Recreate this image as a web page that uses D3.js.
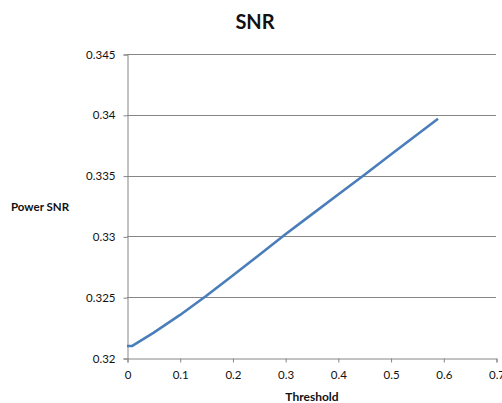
<!DOCTYPE html>
<html>
<head>
<meta charset="utf-8">
<script src="https://cdn.jsdelivr.net/npm/d3@7"></script>
<style>
  html, body { margin: 0; padding: 0; background: #fff; }
  svg { display: block; }
  text { font-family: Lato, "Open Sans", sans-serif; fill: #111; }
</style>
</head>
<body>
<svg id="chart" width="502" height="403"></svg>
<script>
// Threshold sweep and resulting power SNR
const thresholds = [0, 0.01, 0.05, 0.1, 0.15, 0.2, 0.25, 0.3, 0.35, 0.4, 0.45, 0.5, 0.55, 0.59];
const powerSNR   = [0.32099, 0.32099, 0.32207, 0.32352, 0.3251, 0.32677, 0.32845, 0.33015, 0.33179, 0.33342, 0.33505, 0.33671, 0.33836, 0.33967];
const xTicks = [0, 0.1, 0.2, 0.3, 0.4, 0.5, 0.6, 0.7];
const yTicks = [0.32, 0.325, 0.33, 0.335, 0.34, 0.345];
const titleText = "SNR";
const xTitle = "Threshold";
const yTitle = "Power SNR";

(function draw() {
  const svg = d3.select("#chart");
  const plotLeft = 127, plotRight = 496, plotTop = 54, plotBottom = 358;

  const x = d3.scaleLinear().domain([0, 0.7]).range([plotLeft, plotRight]);
  const y = d3.scaleLinear().domain([0.32, 0.345]).range([plotBottom, plotTop]);
  const axisColor = "#868686";

  // horizontal gridlines
  svg.append("g").selectAll("line").data(yTicks.slice(1)).join("line")
    .attr("x1", plotLeft).attr("x2", plotRight)
    .attr("y1", d => Math.round(y(d)) + 0.5).attr("y2", d => Math.round(y(d)) + 0.5)
    .attr("stroke", axisColor).attr("stroke-width", 1);

  // y axis
  const yAxis = d3.axisLeft(y).tickValues(yTicks).tickSize(4).tickPadding(8)
    .tickFormat(d => String(+d.toFixed(3)));
  const gy = svg.append("g").attr("transform", `translate(${plotLeft + 0.5},0.5)`).call(yAxis);
  gy.select(".domain").attr("stroke", axisColor);
  gy.selectAll(".tick line").attr("stroke", axisColor);
  gy.selectAll(".tick text").style("font-size", "11.5px").attr("fill", "#111");

  // x axis
  const xAxis = d3.axisBottom(x).tickValues(xTicks).tickSize(4).tickPadding(8)
    .tickFormat(d => String(+d.toFixed(1)));
  const gx = svg.append("g").attr("transform", `translate(0.5,${plotBottom + 0.5})`).call(xAxis);
  gx.select(".domain").attr("stroke", axisColor);
  gx.selectAll(".tick line").attr("stroke", axisColor);
  gx.selectAll(".tick text").style("font-size", "11.5px").attr("fill", "#111");

  // data line
  const line = d3.line().x((d, i) => x(thresholds[i])).y(d => y(d));
  svg.append("path").datum(powerSNR)
    .attr("d", line)
    .attr("fill", "none")
    .attr("stroke", "#4a7ebb")
    .attr("stroke-width", 2.6)
    .attr("stroke-linejoin", "round");

  // titles
  svg.append("text").attr("x", 255).attr("y", 29).attr("text-anchor", "middle")
    .style("font-size", "20px").style("font-weight", "bold").text(titleText);
  svg.append("text").attr("x", 312).attr("y", 401).attr("text-anchor", "middle")
    .style("font-size", "12px").style("font-weight", "bold").text(xTitle);
  svg.append("text").attr("x", 11).attr("y", 210.5)
    .style("font-size", "11.5px").style("font-weight", "bold").text(yTitle);
})();
</script>
</body>
</html>
